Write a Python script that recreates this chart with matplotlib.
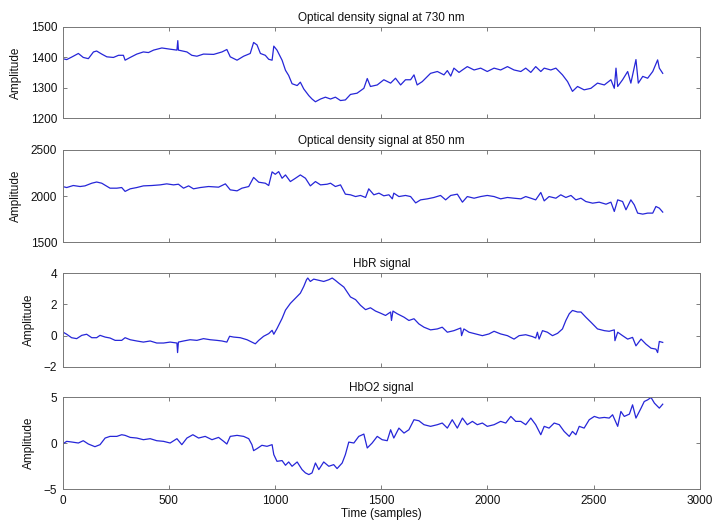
import matplotlib
matplotlib.use("Agg")
import matplotlib.pyplot as plt

plt.rcParams['font.family'] = ['Liberation Sans', 'DejaVu Sans']

# Optical density at 730 nm
od730_t = [0, 19, 42, 74, 97, 121, 145, 160, 184, 208, 239, 263, 286, 294, 318, 349, 380, 404, 428, 467,
           506, 538, 542, 545, 585, 608, 632, 663, 711, 750, 773, 789, 821, 852, 883, 899, 915, 931, 954, 970,
           986, 994, 1009, 1033, 1049, 1064, 1080, 1104, 1119, 1135, 1159, 1174, 1190, 1214, 1237, 1261, 1284,
           1308, 1331,
           1355, 1386, 1418, 1434, 1449, 1481, 1512, 1544, 1567, 1591, 1614, 1638, 1654, 1669, 1693, 1732, 1764,
           1795, 1811, 1827, 1842, 1866, 1882, 1905, 1937, 1968, 1999, 2031, 2062, 2094, 2125, 2157, 2180, 2204,
           2227, 2251, 2267, 2298, 2322, 2353, 2377, 2400, 2424, 2455, 2487, 2518, 2550, 2581, 2597, 2605, 2613,
           2636, 2660, 2675, 2699, 2710, 2731, 2754, 2778, 2801, 2809, 2825]
od730 = [1395, 1392, 1400, 1412, 1399, 1395, 1417, 1420, 1410, 1401, 1399, 1406, 1406, 1390, 1399, 1410, 1417,
         1415, 1423, 1430, 1426, 1423, 1454, 1423, 1417, 1406, 1403, 1410, 1409, 1417, 1425, 1401, 1390, 1403,
         1412, 1448, 1440, 1412, 1406, 1393, 1390, 1436, 1423, 1390, 1357, 1340, 1313, 1307, 1318, 1296, 1274,
         1263, 1254, 1263, 1269, 1263, 1269, 1258, 1260,
         1278, 1282, 1298, 1330, 1304, 1309, 1326, 1315, 1331, 1309, 1326, 1326, 1342, 1309, 1320, 1347, 1353,
         1342, 1356, 1338, 1364, 1350, 1358, 1369, 1358, 1364, 1353, 1364, 1358, 1369, 1358, 1353, 1364, 1350,
         1369, 1353, 1364, 1358, 1364, 1342, 1320, 1288, 1304, 1293, 1298, 1315, 1309, 1326, 1298, 1364, 1304,
         1326, 1353, 1315, 1392, 1315, 1337, 1331, 1353, 1391, 1364, 1347]

# Optical density at 850 nm
od850_t = [0, 19, 50, 82, 105, 137, 160, 184, 223, 255, 278, 294, 318, 349, 380, 420, 459, 490, 522, 545,
           569, 593, 616, 648, 687, 734, 766, 789, 821, 844, 876, 899, 923, 954, 970, 986, 1001, 1017, 1033,
           1049, 1072, 1096, 1119, 1143, 1166, 1190, 1214, 1245, 1261, 1284, 1308, 1331,
           1355, 1379, 1402, 1426, 1441, 1465, 1489, 1512, 1536, 1552, 1559, 1583, 1614, 1638, 1662, 1685, 1717,
           1748, 1779, 1803, 1827, 1858, 1882, 1905, 1937, 1968, 1999, 2031, 2062, 2094, 2125, 2157, 2180, 2204,
           2227, 2251, 2267, 2290, 2322, 2345, 2369, 2393, 2416, 2440, 2463, 2495, 2526, 2558, 2581, 2597, 2613,
           2636, 2652, 2675, 2691, 2707, 2731, 2754, 2778, 2793, 2809, 2825]
od850 = [2103, 2092, 2114, 2103, 2110, 2139, 2152, 2139, 2085, 2085, 2092, 2050, 2078, 2092, 2110, 2114, 2121,
         2132, 2121, 2128, 2085, 2110, 2078, 2092, 2103, 2096, 2132, 2067, 2056, 2085, 2103, 2202, 2150, 2139,
         2114, 2262, 2236, 2265, 2193, 2229, 2157, 2193, 2229, 2193, 2110, 2157, 2121, 2128, 2139, 2103, 2121,
         2020,
         2013, 1994, 2006, 1984, 2078, 2013, 2031, 2002, 2013, 1969, 2031, 1994, 2006, 1994, 1925, 1958, 1969,
         1984, 2006, 1958, 2006, 2020, 1933, 1994, 1976, 1994, 2006, 1994, 1969, 1984, 1976, 1969, 1994, 1976,
         1958, 2038, 1947, 1994, 1976, 2013, 1984, 2006, 1958, 1976, 1940, 1922, 1933, 1911, 1933, 1832, 1958,
         1940, 1850, 1958, 1904, 1814, 1803, 1814, 1814, 1886, 1868, 1825]

# Deoxyhaemoglobin
hbr_t = [0, 19, 42, 66, 90, 113, 137, 160, 176, 200, 223, 247, 278, 294, 318, 349, 380, 412, 443, 475,
         506, 538, 541, 545, 569, 600, 632, 663, 695, 726, 750, 773, 786, 805, 836, 868, 891, 907, 923, 946,
         970, 986, 994, 1009, 1033, 1049, 1072, 1088, 1104, 1119, 1135, 1148, 1154, 1166, 1182, 1206, 1229,
         1253, 1269, 1284, 1300, 1324,
         1355, 1379, 1402, 1426, 1449, 1473, 1496, 1520, 1544, 1548, 1555, 1575, 1607, 1630, 1654, 1677, 1701,
         1732, 1764, 1787, 1811, 1842, 1874, 1878, 1889, 1913, 1945, 1976, 2007, 2031, 2062, 2094, 2125, 2149,
         2180, 2212, 2227, 2235, 2243, 2259, 2282, 2306, 2330, 2353, 2369, 2385, 2400, 2424, 2440, 2463, 2487,
         2518, 2550, 2573, 2597, 2600, 2613, 2636, 2660, 2683, 2699, 2723, 2746, 2770, 2793, 2801, 2809, 2825]
hbr = [0.24, 0.09, -0.13, -0.19, 0.02, 0.09, -0.13, -0.13, 0.02, -0.09, -0.15, -0.30, -0.30, -0.13, -0.26,
       -0.34, -0.41, -0.34, -0.47, -0.47, -0.41, -0.47, -1.08, -0.41, -0.34, -0.26, -0.30, -0.19, -0.26, -0.30,
       -0.34, -0.41, -0.04, -0.09, -0.13, -0.26, -0.41, -0.52, -0.30, -0.04, 0.13, 0.34, 0.09, 0.45, 1.10, 1.63,
       2.06, 2.28, 2.49, 2.71, 3.14, 3.57, 3.68, 3.46, 3.61, 3.53, 3.46, 3.57, 3.68, 3.53, 3.35, 3.10,
       2.47, 2.30, 1.94, 1.66, 1.78, 1.57, 1.44, 1.29, 1.51, 0.97, 1.57, 1.40, 1.18, 0.97, 1.08, 0.75, 0.54,
       0.37, 0.43, 0.54, 0.22, 0.32, 0.49, 0.00, 0.43, 0.22, 0.11, 0.00, 0.11, 0.28, 0.11, 0.00, -0.22, 0.00,
       0.06, -0.06, -0.15, 0.22, -0.22, 0.32, 0.22, 0.00, 0.15, 0.43, 0.97, 1.40, 1.61, 1.51, 1.51, 1.18, 0.86,
       0.43, 0.32, 0.28, 0.37, -0.32, 0.22, 0.00, -0.22, -0.11, -0.65, -0.22, -0.54, -0.80, -0.86, -1.08, -0.37,
       -0.43]

# Oxyhaemoglobin
hbo2_t = [0, 19, 42, 74, 97, 121, 152, 176, 200, 223, 255, 278, 294, 318, 349, 380, 412, 443, 475, 506,
          538, 561, 585, 613, 640, 671, 703, 734, 758, 773, 789, 821, 852, 876, 891, 899, 915, 938, 962, 986,
          994, 1009, 1033, 1049, 1064, 1080, 1104, 1127, 1143, 1159, 1174, 1190, 1206, 1229, 1253, 1276, 1292,
          1316, 1331, 1347,
          1371, 1394, 1418, 1434, 1457, 1481, 1504, 1528, 1544, 1559, 1583, 1607, 1630, 1654, 1677, 1701, 1732,
          1764, 1787, 1811, 1834, 1858, 1882, 1905, 1929, 1952, 1976, 1999, 2031, 2062, 2086, 2110, 2133, 2157,
          2180, 2204, 2227, 2251, 2267, 2290, 2314, 2338, 2361, 2385, 2400, 2416, 2432, 2455, 2479, 2503, 2526,
          2550, 2573, 2589, 2613, 2628, 2644, 2668, 2683, 2699, 2723, 2738, 2754, 2770, 2786, 2809, 2825]
hbo2 = [-0.11, 0.18, 0.11, 0.00, 0.25, -0.11, -0.40, -0.18, 0.54, 0.72, 0.72, 0.90, 0.83, 0.61, 0.54, 0.36,
        0.47, 0.25, 0.18, 0.00, 0.47, -0.18, 0.54, 0.90, 0.54, 0.72, 0.36, 0.61, 0.18, -0.11, 0.72, 0.83, 0.72,
        0.47, -0.18, -0.83, -0.61, -0.25, -0.36, -0.18, -1.26, -1.99, -1.91, -2.42, -2.06, -2.53, -2.06, -2.89,
        -3.25, -3.43, -3.25, -2.17, -2.89, -2.06, -2.53, -2.35, -2.78, -2.17, -1.26, 0.10,
        0.00, 0.72, 0.97, -0.54, 0.00, 0.72, 0.36, 0.25, 1.44, 0.54, 1.62, 1.08, 1.44, 2.53, 2.42, 1.99, 1.81,
        1.99, 2.17, 1.62, 2.53, 1.62, 2.71, 1.99, 2.35, 1.99, 2.17, 1.81, 1.99, 2.35, 2.17, 2.89, 2.35, 2.35,
        1.99, 2.71, 1.99, 0.90, 1.81, 1.62, 2.17, 1.99, 1.26, 0.72, 1.26, 0.90, 1.81, 1.62, 2.53, 2.89, 2.71,
        2.78, 2.71, 3.07, 1.81, 3.43, 2.89, 3.14, 4.15, 2.71, 3.79, 4.51, 4.69, 4.95, 4.33, 3.79, 4.22]

titles = ['Optical density signal at 730 nm', 'Optical density signal at 850 nm', 'HbR signal', 'HbO2 signal']
y_limits = [(1200, 1500), (1500, 2500), (-2, 4), (-5, 5)]
y_ticks = [[1200, 1300, 1400, 1500], [1500, 2000, 2500], [-2, 0, 2, 4], [-5, 0, 5]]
x_ticks = [0, 500, 1000, 1500, 2000, 2500, 3000]

series = [(od730_t, od730), (od850_t, od850), (hbr_t, hbr), (hbo2_t, hbo2)]

# axes boxes in figure fractions: left, bottom, width, height
boxes = [(0.088, 0.773, 0.895, 0.176),
         (0.088, 0.5355, 0.895, 0.1766),
         (0.088, 0.2956, 0.895, 0.1804),
         (0.088, 0.0614, 0.895, 0.1766)]

fs = 8.5
txt = '#111111'

fig = plt.figure(figsize=(7.12, 5.21), dpi=100)

for i, ((t, y), box) in enumerate(zip(series, boxes)):
    ax = fig.add_axes(box)
    ax.plot(t, y, color='#2626d8', linewidth=0.9)
    ax.set_xlim(0, 3000)
    ax.set_ylim(*y_limits[i])
    ax.set_xticks(x_ticks)
    ax.set_yticks(y_ticks[i])
    ax.set_title(titles[i], fontsize=fs, color=txt, pad=4)
    ax.set_ylabel('Amplitude', fontsize=fs, color=txt, labelpad=6)
    ax.tick_params(direction='in', length=3, width=0.6, color='#666666',
                   top=True, right=True, labelsize=fs, labelcolor=txt, pad=4)
    for sp in ax.spines.values():
        sp.set_color('#777777')
        sp.set_linewidth(0.7)
    if i < 3:
        ax.set_xticklabels([])
    else:
        ax.set_xlabel('Time (samples)', fontsize=fs, color=txt, labelpad=1)

fig.savefig('out.png', dpi=100)
